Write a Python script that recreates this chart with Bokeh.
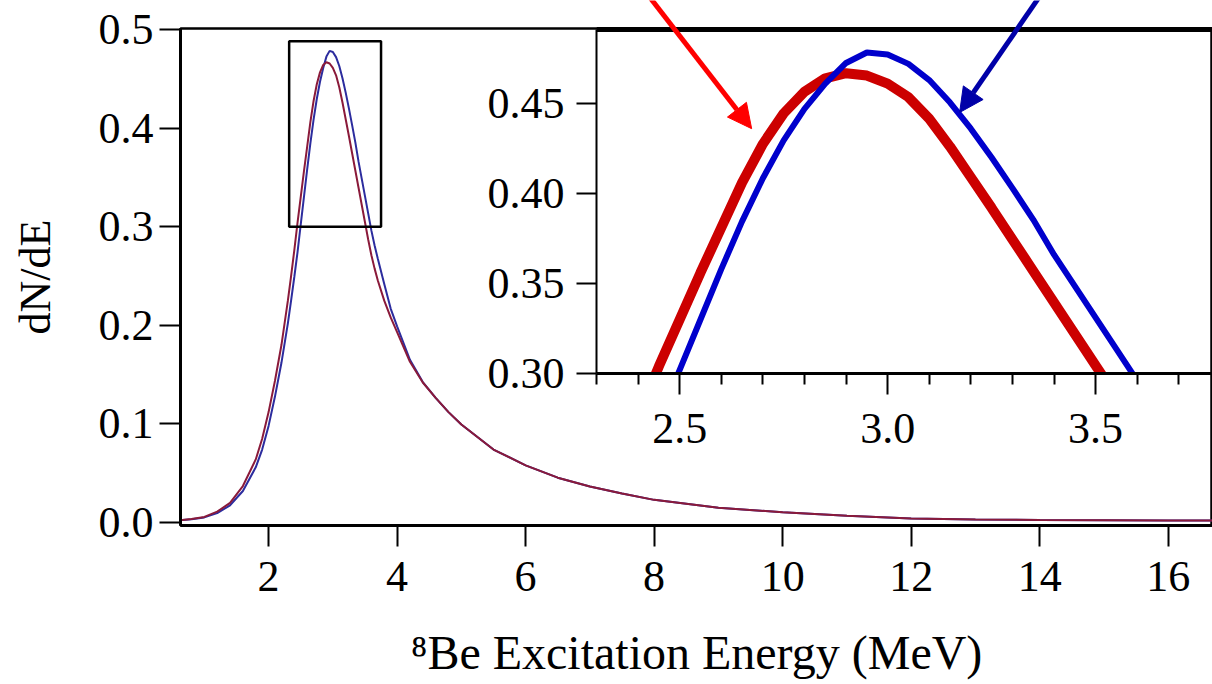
from bokeh.plotting import figure
from bokeh.models import Range1d, FixedTicker, NumeralTickFormatter, Arrow, NormalHead, Span
from bokeh.layouts import column
from bokeh.embed import file_html
from bokeh.resources import INLINE

FONT = "Liberation Serif"

# ---- data ----
energy = [0.55, 0.8, 1.0, 1.2, 1.4, 1.6, 1.8, 1.9, 2.0, 2.1, 2.2, 2.3, 2.35, 2.4, 2.45,
          2.5, 2.55, 2.6, 2.65, 2.7, 2.75, 2.8, 2.85, 2.9, 2.95, 3.0, 3.05, 3.1, 3.15,
          3.2, 3.25, 3.3, 3.35, 3.4, 3.45, 3.5, 3.55, 3.6, 3.65, 3.7, 3.8, 3.9, 4.0,
          4.2, 4.4, 4.6, 4.8, 5.0, 5.5, 6.0, 6.5, 7.0, 7.5, 8.0, 9.0, 10.0, 11.0,
          12.0, 13.0, 14.0, 15.0, 16.0, 16.7]
dnde_red = [0.002, 0.0035, 0.0057, 0.011, 0.020, 0.037, 0.064, 0.085, 0.112, 0.144,
            0.180, 0.225, 0.250, 0.276, 0.304, 0.330, 0.356, 0.381, 0.406, 0.4275,
            0.4445, 0.4565, 0.4640, 0.4668, 0.4655, 0.4610, 0.4535, 0.4415, 0.4260,
            0.4090, 0.3920, 0.3745, 0.3570, 0.3395, 0.3220, 0.3045, 0.2870, 0.2710,
            0.2575, 0.2455, 0.2250, 0.2080, 0.1930, 0.1630, 0.1420, 0.1265, 0.1120,
            0.0995, 0.0740, 0.0580, 0.0455, 0.0365, 0.0295, 0.0230, 0.0150, 0.0105,
            0.0068, 0.0040, 0.0032, 0.0027, 0.0024, 0.0021, 0.0020]
dnde_blue = [0.002, 0.0033, 0.0052, 0.0095, 0.0175, 0.032, 0.056, 0.074, 0.098, 0.128,
             0.162, 0.202, 0.225, 0.249, 0.274, 0.302, 0.330, 0.358, 0.3845, 0.4085,
             0.4295, 0.4470, 0.4610, 0.4725, 0.4783, 0.4772, 0.4720, 0.4630, 0.4505,
             0.4360, 0.4200, 0.4030, 0.3855, 0.3660, 0.3485, 0.3310, 0.3135, 0.2960,
             0.2810, 0.2675, 0.2420, 0.2170, 0.1990, 0.1650, 0.1425, 0.1265, 0.1120,
             0.0995, 0.0740, 0.0580, 0.0455, 0.0365, 0.0295, 0.0230, 0.0150, 0.0105,
             0.0068, 0.0040, 0.0032, 0.0027, 0.0024, 0.0021, 0.0020]

main_xticks = [2, 4, 6, 8, 10, 12, 14, 16]
main_yticks = [0.0, 0.1, 0.2, 0.3, 0.4, 0.5]
inset_xticks = [2.5, 3.0, 3.5]
inset_xminor = [2.3, 2.4, 2.6, 2.7, 2.8, 2.9, 3.1, 3.2, 3.3, 3.4, 3.6, 3.7]
inset_yticks = [0.30, 0.35, 0.40, 0.45]
zoom_box_x = [2.32, 3.75]
zoom_box_y = [0.30, 0.488]
inset_top = 0.4911
red_arrow = [2.418, 0.512, 2.673, 0.436]
blue_arrow = [3.373, 0.512, 3.173, 0.445]


def style_axis(ax, tick_out, font_size="44px"):
    ax.axis_line_color = "black"
    ax.major_tick_line_color = "black"
    ax.major_tick_line_width = 2
    ax.major_tick_in = 0
    ax.major_tick_out = tick_out
    ax.major_label_text_font = FONT
    ax.major_label_text_font_size = font_size
    ax.major_label_text_color = "black"
    ax.axis_label_text_font = FONT
    ax.axis_label_text_font_style = "normal"
    ax.axis_label_text_color = "black"


# ---- main plot ----
p = figure(width=1212, height=684, x_range=Range1d(0.629, 16.69), y_range=Range1d(-0.003, 0.501),
           output_backend="svg", toolbar_location=None,
           min_border_left=174, min_border_right=0, min_border_top=28, min_border_bottom=159,
           background_fill_color="white", border_fill_color="white")
p.grid.visible = False
p.outline_line_color = "black"
p.outline_line_width = 2.5

p.xaxis.ticker = FixedTicker(ticks=main_xticks)
p.yaxis.ticker = FixedTicker(ticks=main_yticks)
p.yaxis.formatter = NumeralTickFormatter(format="0.0")
for ax in (p.xaxis[0], p.yaxis[0]):
    style_axis(ax, 21)
    ax.axis_line_width = 3
    ax.minor_tick_line_color = None
p.xaxis.axis_label = "\u2078Be Excitation Energy (MeV)"
p.xaxis.axis_label_text_font_size = "48px"
p.xaxis.axis_label_text_line_height = 1.0
p.xaxis.major_label_text_line_height = 1.0
p.yaxis.axis_label = "dN/dE"
p.yaxis.axis_label_text_font_size = "44px"
p.yaxis.axis_label_text_line_height = 0.8
p.xaxis.major_label_standoff = 15
p.yaxis.major_label_standoff = 6
p.xaxis.axis_label_standoff = 32
p.yaxis.axis_label_standoff = 36

p.line(energy, dnde_blue, line_color="#2c2c9e", line_width=2)
p.line(energy, dnde_red, line_color="#8a1a3a", line_width=2)
p.quad(left=[zoom_box_x[0]], right=[zoom_box_x[1]], bottom=[zoom_box_y[0]], top=[zoom_box_y[1]],
       fill_color=None, line_color="black", line_width=2.5)

# ---- inset ----
INSET_LEFT = 596 - 180
q = figure(width=1212 - INSET_LEFT, height=480, x_range=Range1d(2.3, 3.781), y_range=Range1d(0.30, 0.5072),
           output_backend="svg", toolbar_location=None,
           min_border_left=180, min_border_right=0, min_border_top=0, min_border_bottom=107,
           background_fill_color=None, border_fill_color=None, outline_line_color=None)
q.styles = {"position": "absolute", "left": f"{INSET_LEFT}px", "top": "0px"}
q.grid.visible = False
q.xaxis.ticker = FixedTicker(ticks=inset_xticks, minor_ticks=inset_xminor)
q.yaxis.ticker = FixedTicker(ticks=inset_yticks)
q.xaxis.formatter = NumeralTickFormatter(format="0.0")
q.yaxis.formatter = NumeralTickFormatter(format="0.00")
style_axis(q.xaxis[0], 21)
style_axis(q.yaxis[0], 20)
q.xaxis.axis_line_width = 3
q.yaxis.axis_line_width = 2
q.xaxis.minor_tick_line_color = "black"
q.xaxis.minor_tick_line_width = 2
q.xaxis.minor_tick_in = 0
q.xaxis.minor_tick_out = 11
q.yaxis.minor_tick_line_color = None
q.yaxis.bounds = (0.30, inset_top)
q.xaxis.major_label_standoff = 19
q.yaxis.major_label_standoff = 12

q.line(energy, dnde_red, line_color="#cc0000", line_width=10)
q.line(energy, dnde_blue, line_color="#0000cc", line_width=6)
q.add_layout(Span(location=inset_top, dimension="width", line_color="black", line_width=5))

q.add_layout(Arrow(end=NormalHead(size=24, fill_color="#ff0000", line_color="#ff0000"),
                   x_start=red_arrow[0], y_start=red_arrow[1], x_end=red_arrow[2], y_end=red_arrow[3],
                   line_color="#ff0000", line_width=5))
q.add_layout(Arrow(end=NormalHead(size=24, fill_color="#0000a8", line_color="#0000a8"),
                   x_start=blue_arrow[0], y_start=blue_arrow[1], x_end=blue_arrow[2], y_end=blue_arrow[3],
                   line_color="#0000a8", line_width=5))

layout = column(p, q)
open("out.html", "w").write(file_html(layout, INLINE))
